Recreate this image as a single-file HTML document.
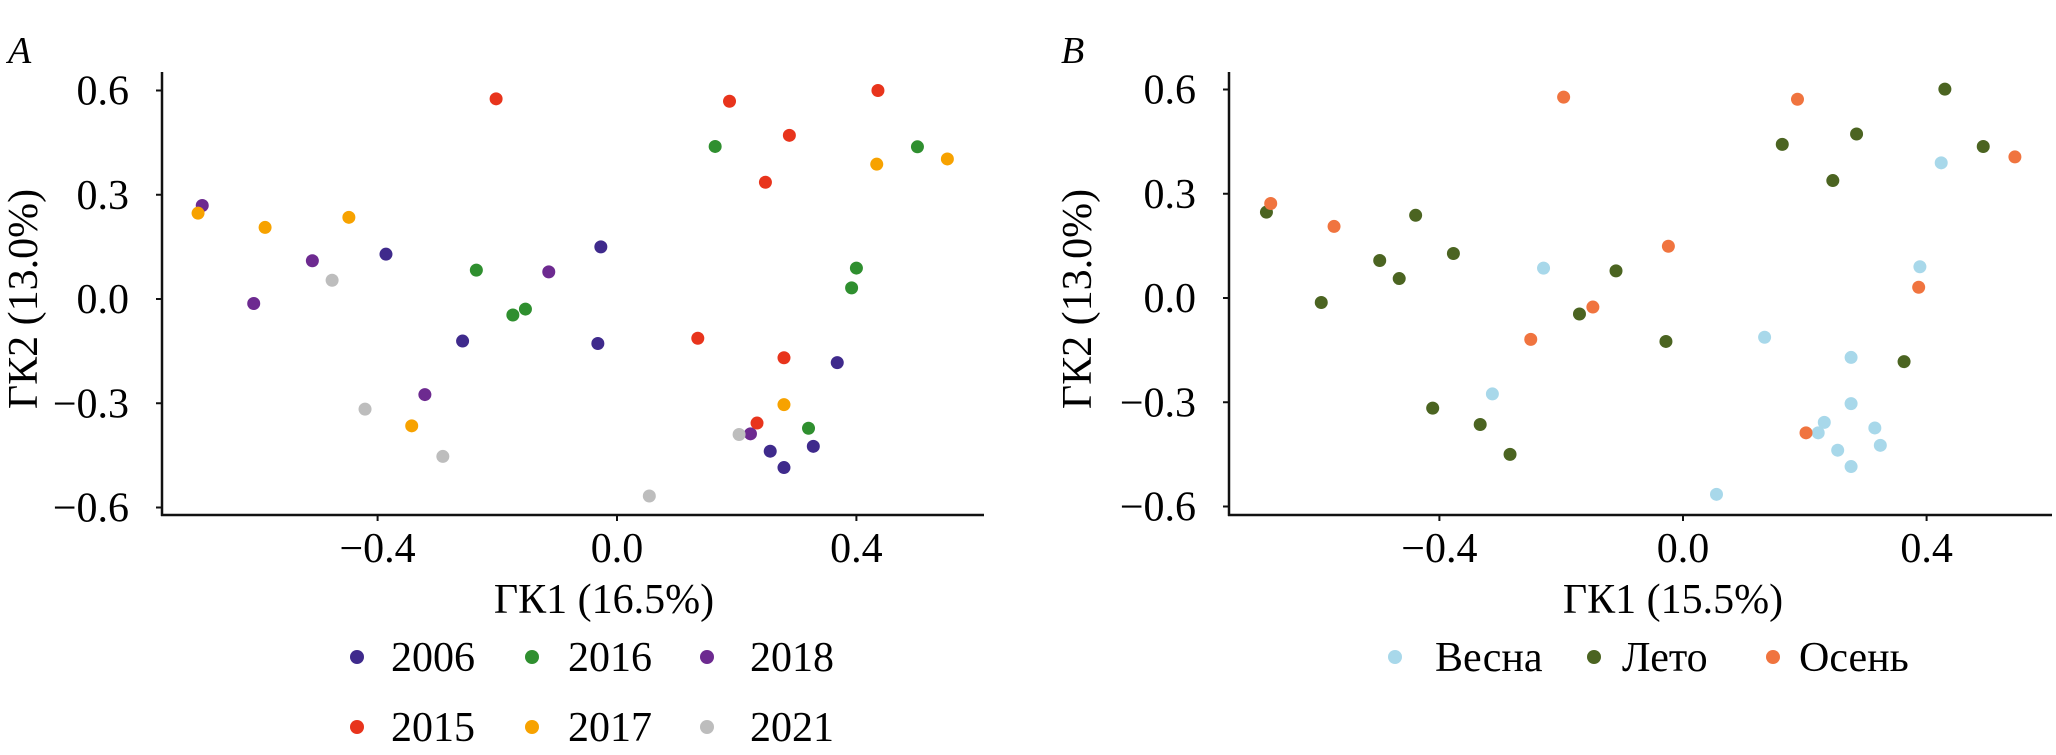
<!DOCTYPE html>
<html><head><meta charset="utf-8">
<style>
html,body{margin:0;padding:0;background:#fff;}
svg{display:block;font-family:"Liberation Serif",serif;}
</style></head>
<body>
<svg id="fig" width="2056" height="755" viewBox="0 0 2056 755" xmlns="http://www.w3.org/2000/svg">
  <text x="8" y="63" font-size="38" font-style="italic">A</text>
  <text x="1061" y="63" font-size="38" font-style="italic">B</text>
  <g id="panelA"></g>
  <g id="panelB"></g>
</svg>
<script>
const NS = "http://www.w3.org/2000/svg";
const yTicks = [0.6, 0.3, 0.0, -0.3, -0.6];
const yTickLabels = ["0.6", "0.3", "0.0", "\u22120.3", "\u22120.6"];
const xTicks = [-0.4, 0.0, 0.4];
const xTickLabels = ["\u22120.4", "0.0", "0.4"];

const yearGroups = ["2006", "2016", "2018", "2015", "2017", "2021"];
const yearColors = ["#3f2a8c", "#2f8f2f", "#6d2a90", "#e8341c", "#f7a200", "#bdbdbd"];
const y2006x = [-0.386, -0.027, -0.258, -0.032, 0.368, 0.256, 0.328, 0.279];
const y2006y = [0.129, 0.150, -0.121, -0.128, -0.183, -0.438, -0.424, -0.485];
const y2016x = [0.164, 0.502, -0.235, -0.174, -0.153, 0.400, 0.392, 0.320];
const y2016y = [0.439, 0.438, 0.083, -0.046, -0.029, 0.089, 0.032, -0.372];
const y2018x = [-0.693, -0.509, -0.607, -0.114, -0.321, 0.223];
const y2018y = [0.269, 0.110, -0.013, 0.078, -0.275, -0.388];
const y2015x = [-0.202, 0.188, 0.436, 0.288, 0.248, 0.135, 0.279, 0.234];
const y2015y = [0.576, 0.569, 0.600, 0.471, 0.336, -0.113, -0.169, -0.357];
const y2017x = [0.434, 0.552, -0.700, -0.588, -0.448, -0.343, 0.279];
const y2017y = [0.388, 0.403, 0.247, 0.206, 0.235, -0.365, -0.304];
const y2021x = [-0.476, -0.421, -0.291, 0.054, 0.204];
const y2021y = [0.054, -0.317, -0.453, -0.567, -0.390];

const seasonGroups = ["Весна", "Лето", "Осень"];
const seasonColors = ["#a8d8ea", "#4b6421", "#f0743f"];
const springX = [0.424, 0.389, -0.229, 0.134, 0.276, 0.276, -0.313, 0.232, 0.222, 0.315, 0.324, 0.254, 0.276, 0.055];
const springY = [0.389, 0.090, 0.086, -0.113, -0.171, -0.304, -0.276, -0.358, -0.388, -0.374, -0.424, -0.438, -0.485, -0.565];
const summerX = [0.430, 0.285, 0.163, 0.493, 0.246, -0.684, -0.439, -0.377, -0.498, -0.466, -0.594, -0.110, -0.170, -0.028, 0.363, -0.411, -0.333, -0.284];
const summerY = [0.601, 0.472, 0.442, 0.436, 0.338, 0.247, 0.238, 0.128, 0.108, 0.056, -0.013, 0.078, -0.046, -0.125, -0.183, -0.317, -0.364, -0.450];
const autumnX = [-0.196, 0.188, 0.545, -0.677, -0.573, -0.024, -0.148, -0.250, 0.387, 0.202];
const autumnY = [0.578, 0.572, 0.406, 0.272, 0.206, 0.149, -0.026, -0.119, 0.031, -0.388];

function mk(parent, tag, attrs, text) {
  const e = document.createElementNS(NS, tag);
  for (const k in attrs) e.setAttribute(k, attrs[k]);
  if (text !== undefined) e.textContent = text;
  parent.appendChild(e);
  return e;
}

function drawPanel(g, cfg) {
  const sx = v => cfg.x0 + v * cfg.kx;
  const sy = v => cfg.y0 - v * cfg.ky;
  let e;
  e = mk(g, "line", {x1: cfg.ax, y1: 72, x2: cfg.ax, y2: 516, stroke: "#111", "stroke-width": 2.5});
  
  
  e = mk(g, "line", {x1: cfg.ax - 1, y1: 515, x2: cfg.axEnd, y2: 515, stroke: "#111", "stroke-width": 2.5});
  
  
  yTicks.forEach((t, i) => {
    const y = sy(t);
    let tk = mk(g, "line", {x1: cfg.ax - 6, y1: y, x2: cfg.ax, y2: y, stroke: "#111", "stroke-width": 2});
    
    
    let lb = mk(g, "text", {x: cfg.ax - 33, y: y + 14, "font-size": 42, "text-anchor": "end"}, yTickLabels[i]);
    
    
  });
  xTicks.forEach((t, i) => {
    const x = sx(t);
    let tk = mk(g, "line", {x1: x, y1: 515, x2: x, y2: 521, stroke: "#111", "stroke-width": 2});
    
    
    let lb = mk(g, "text", {x: x, y: 562, "font-size": 42, "text-anchor": "middle"}, xTickLabels[i]);
    
    
  });
  e = mk(g, "text", {x: 0, y: 0, "font-size": 42, "text-anchor": "middle", transform: "translate(" + (cfg.ytx) + ",299) rotate(-90)"}, "ГК2 (13.0%)");
  
  
  e = mk(g, "text", {x: cfg.xtx, y: 613, "font-size": 42, "text-anchor": "middle"}, cfg.xTitle);
  
  
  cfg.series.forEach((s, si) => {
    const xs = s[0], ys = s[1];
    xs.forEach((v, i) => {
      let c = mk(g, "circle", {cx: sx(v), cy: sy(ys[i]), r: 6.5, fill: cfg.colors[si]});
      
      
    });
  });
  cfg.legend.forEach((L, i) => {
    let c = mk(g, "circle", {cx: L[0], cy: L[1], r: 7, fill: cfg.colors[i]});
    
    
    let t = mk(g, "text", {x: L[2], y: L[1] + 14, "font-size": 42}, cfg.groups[i]);
    
    
  });
}

drawPanel(document.getElementById("panelA"), {
  x0: 617, kx: 598.5, y0: 299, ky: 347.5, ax: 162, axEnd: 984,
  ytx: 37, xtx: 604, xTitle: "ГК1 (16.5%)",
  groups: yearGroups, colors: yearColors,
  series: [[y2006x, y2006y], [y2016x, y2016y], [y2018x, y2018y], [y2015x, y2015y], [y2017x, y2017y], [y2021x, y2021y]],
  legend: [[357, 657, 391], [532, 657, 568], [707, 657, 750], [357, 727, 391], [532, 727, 568], [707, 727, 750]]
});
drawPanel(document.getElementById("panelB"), {
  x0: 1683, kx: 609, y0: 298, ky: 347.5, ax: 1229, axEnd: 2052,
  ytx: 1091, xtx: 1673, xTitle: "ГК1 (15.5%)",
  groups: seasonGroups, colors: seasonColors,
  series: [[springX, springY], [summerX, summerY], [autumnX, autumnY]],
  legend: [[1395, 657, 1435], [1594, 657, 1622], [1773, 657, 1799]]
});
</script>
</body></html>
